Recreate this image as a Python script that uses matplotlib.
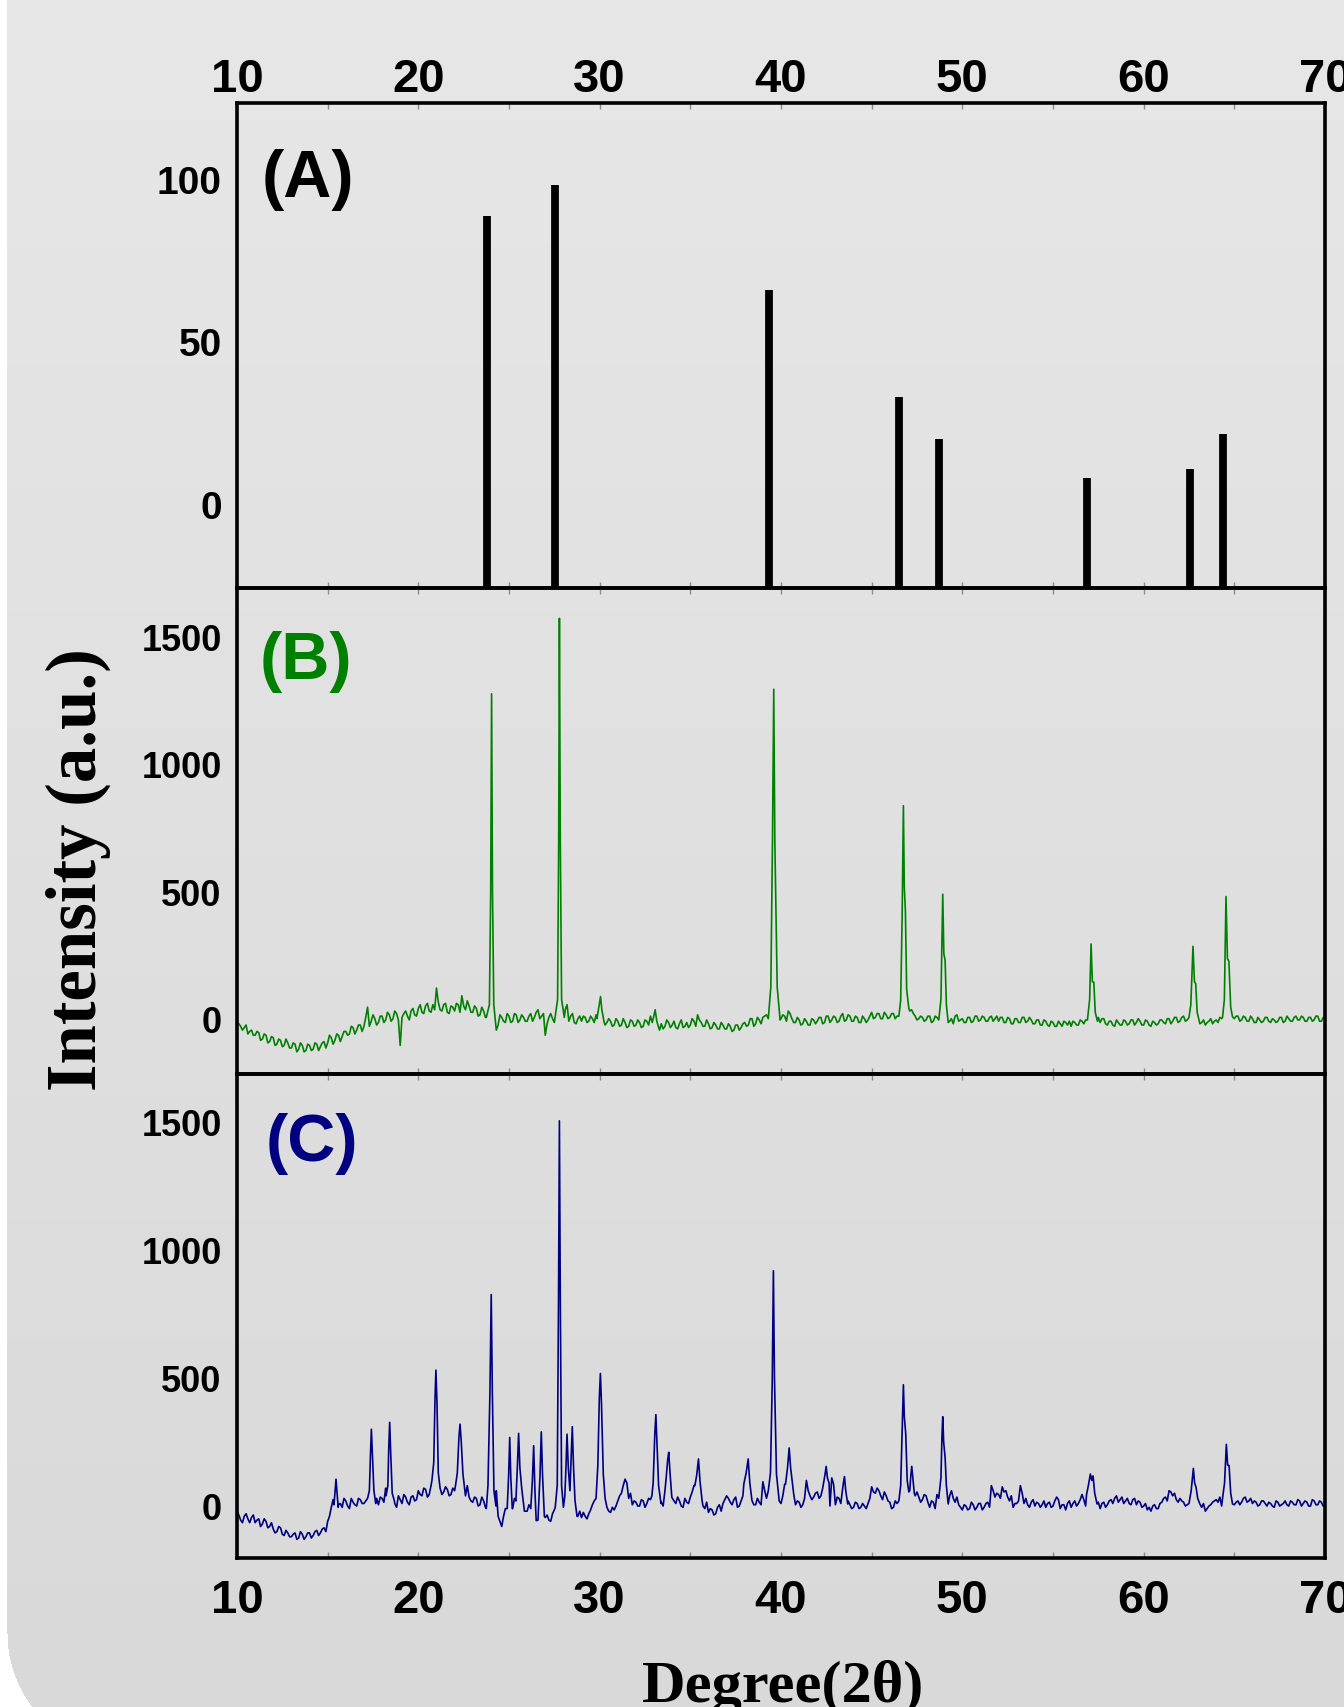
import numpy as np
import matplotlib
matplotlib.use("Agg")
import matplotlib.pyplot as plt

# ---------------- data ----------------
# (A) reference pattern sticks
ref_pos = [23.81, 27.52, 39.34, 46.49, 48.71, 56.87, 62.54, 64.38]
ref_int = [88.9, 98.6, 66.2, 33.3, 20.1, 8.1, 11.0, 21.9]

# baseline samples: even grid 10.0, 10.2, ... 70.0 and odd grid 10.1, 10.3, ... 69.9
grid_step = 0.2
even_start, odd_start = 10.0, 10.1

b_base = [
    -5, -25, -30, -55, -40,   -60, -50, -75, -60, -85,   -70, -95, -80, -100, -90,
    -110, -95, -115, -100, -120,   -100, -115, -95, -105, -85,   -90, -70, -80, -60, -65,
    -45, -55, -30, -40, -20,   -25, 50, -5, 5, -10,   15, 0, 20, 5, 25,
    -100, 25, 15, 35, 20,   45, 30, 55, 35, 60,   125, 40, 60, 30, 55,
    35, 60, 95, 40, 55,   30, 45, 20, 35, -45,   10, 10, -20, 10, -10,
    15, -5, 20, 0, 10,   -5, 25, 10, 40, 15,   -60, 10, 5, 10, 10,
    5, 60, 15, -10, 5,   -5, 10, -5, 5, 20,   20, 20, -10, -5, -20,
    -5, -20, -10, -25, -5,   -20, -10, -25, -5, 15,   20, -30, -15, -25, -10,
    -20, -30, -15, -30, -10,   -20, -5, 20, -10, -25,   -15, -30, -20, -35, -20,
    -35, -25, -40, -20, -30,   -10, -20, 5, -15, 0,   10, 20, 20, 20, 10,
    5, 15, 35, 5, -10,   0, -15, -5, -20, 0,   -5, 10, -10, 15, 0,
    10, -5, 25, 0, 15,   -5, 10, -10, 5, 0,   30, 10, 25, 5, 20,
    10, 25, 15, 15, 15,   40, 40, 15, 5, 10,   0, 15, -5, 10, 5,
    5, -25, 5, 15, -5,   5, -10, 10, -5, 15,   0, 10, -5, 15, 5,
    -5, 10, -10, 5, -15,   5, -10, 10, -5, 0,   -15, 0, -20, -5, -25,
    -10, -25, -15, -5, -20,   -25, -10, -20, -5, 0,   0, 0, 0, -10, 5,
    -20, -5, -25, -10, -20,   -5, -15, 0, -10, -5,   -20, -5, -25, -10, -15,
    0, -15, 5, -5, 10,   -5, 15, 0, 0, 0,   0, -10, -20, -5, -15,
    0, 10, 10, 10, 10,   5, 15, 0, 10, -5,   5, -10, 0, -5, 10,
    -10, 0, -5, 10, -5,   5, -5, 15, 0, 10,   -5, 10, 0, 15, -5,
    5]

b_base_odd = [
    -15, -40, -20, -45, -60,   -45, -80, -55, -90, -65,   -100, -75, -105, -75, -110,
    -90, -125, -90, -125, -95,   -120, -90, -120, -90, -110,   -60, -95, -55, -85, -45,
    -60, -25, -55, -20, -45,   10, -25, 20, -20, 15,   -10, 30, -5, 35, 0,
    10, 35, 0, 45, 15,   60, 25, 65, 30, 40,   70, 35, 65, 25, 50,
    65, 30, 55, 75, 30,   55, 15, 50, 10, 10,   0, -10, 20, -5, 25,
    -10, 25, -10, 20, -5,   15, -5, 30, 5, 25,   -15, 25, -10, 20, 10,
    40, -5, 25, -15, 15,   15, -10, 15, -10, 10,   60, -20, 5, -25, 5,
    -25, 5, -30, 0, -25,   0, -30, 0, -20, -5,   0, -15, -35, 0, -30,
    -5, -35, 0, -25, -30,   5, -25, 0, -25, 0,   -35, -10, -35, -10, -35,
    -15, -45, -20, -40, -15,   -25, 5, -25, 10, -15,   15, -5, 20, 10, 20,
    20, -5, 25, -10, 10,   -20, 5, -20, 5, -15,   10, -15, 15, -10, 15,
    -10, 15, -5, 20, -5,   15, -10, 15, -10, 15,   5, 25, 5, 30, 5,
    25, 5, 30, 15, 20,   35, 25, 0, 15, -5,   15, -10, 15, -5, 10,
    15, -5, -15, 20, 0,   -10, 10, -10, 15, -5,   15, -5, 10, -5, 15,
    10, -10, 10, -15, 5,   -10, 10, -10, 10, -15,   0, -20, 0, -20, -5,
    -25, -5, -25, -10, -5,   -5, -20, 0, -15, 5,   20, 20, 10, 5, -15,
    -5, -20, 0, -20, 0,   -20, 0, -20, 5, -20,   0, -20, -5, -20, 0,
    -10, 5, -15, 10, -10,   10, -5, 15, 10, 0,   -15, 0, -10, 5, -5,
    -10, 5, 10, 10, 15,   15, -5, 15, -5, 15,   -10, 10, -10, 10, -5,
    5, -10, 10, -10, 15,   -5, 10, 0, 15, -5,   10, -5, 15, -5, 10]

c_base = [
    -20, -55, -40, -50, -45,   -65, -50, -70, -60, -80,   -90, -100, -85, -115, -105,
    -120, -105, -125, -110, -120,   -105, -115, -95, -105, -85,   -60, -5, 20, 5, -5,
    20, -10, 15, 0, 25,   10, 45, 60, 60, 5,   30, 70, 70, 30, -5,
    25, 45, 15, 35, 20,   60, 40, 65, 45, 150,   70, 70, 55, 65, 45,
    60, 110, 110, 120, 35,   15, 30, 5, 20, -20,   0, 50, -40, -80, -10,
    0, -10, 20, 70, -30,   -20, -10, 0, -55, 0,   -45, -55, -30, 0, 0,
    0, 0, 60, 0, -40,   -45, -40, -30, 5, -10,   0, 0, -10, -25, -15,
    20, 50, 105, 30, 5,   15, 0, 20, 10, 25,   0, 0, 15, 0, 0,
    30, 10, 20, -5, 15,   35, 80, 80, 20, -10,   -25, -15, -30, 5, 10,
    40, 15, 25, -5, 20,   0, 0, 20, 5, 15,   95, 30, 0, 0, 0,
    10, 85, 0, 40, 5,   15, 5, 100, 40, 35,   55, 40, 0, 90, 110,
    5, 30, 0, 10, 5,   -5, 10, -5, 0, 10,   75, 50, 60, 25, 40,
    15, -5, 10, 0, 0,   55, 0, 40, 35, 25,   40, -5, 15, 45, 0,
    0, 10, 60, 15, 5,   -15, 0, -10, 5, -5,   10, -5, 15, 80, 35,
    45, 75, 60, 20, -5,   10, 80, 10, 5, 15,   0, 10, 5, -5, 15,
    0, 35, -10, 5, 10,   -5, 20, 10, 45, 0,   0, 0, 5, -10, 15,
    5, 25, 30, 15, 35,   20, 10, 25, 5, 15,   0, -15, -20, 5, -10,
    15, 35, 60, 40, 25,   30, 15, 5, 0, 0,   5, -5, -20, 0, 15,
    25, 35, 0, 0, 0,   5, 20, 15, 35, 20,   10, 15, 5, 20, 0,
    10, -5, 15, 5, 20,   0, 15, 5, 20, 10,   15, 0, 20, 5, 15,
    5]

c_base_odd = [
    -35, -65, -30, -65, -35,   -55, -80, -50, -85, -65,   -105, -80, -110, -95, -120,
    -110, -130, -100, -130, -105,   -125, -100, -115, -90, -100,   -40, 25, 15, 10, 30,
    0, 30, 5, 30, 10,   20, 40, 40, 30, 35,   15, 40, 40, 10, 40,
    10, 35, 5, 40, 25,   45, 70, 35, 80, 100,   60, 45, 75, 40, 70,
    40, 90, 90, 80, 20,   35, 0, 35, -5, 10,   0, 60, -60, -40, -30,
    0, 30, 30, 0, -20,   5, 0, 0, -30, -20,   -35, -60, -15, 0, 0,
    0, 0, 0, 0, -20,   -25, -50, -15, 20, 0,   0, 0, -20, -5, 0,
    40, 80, 90, 50, 20,   0, 25, -5, 30, 10,   0, 0, 0, 0, 0,
    10, 35, 0, 30, 10,   55, 0, 0, 0, 15,   -10, -35, -5, -20, 25,
    30, 5, 35, 0, 40,   0, 0, 5, 30, 5,   60, 0, 0, 0, 0,
    40, 0, 0, 20, 20,   -5, 30, 60, 25, 50,   30, 70, 0, 0, 85,
    35, 10, 0, 20, -10,   15, -10, 10, -10, 30,   55, 70, 40, 55, 20,
    -10, 20, -10, 0, 0,   0, 0, 55, 15, 45,   15, 20, -10, 30, 0,
    0, 40, 30, 35, -5,   5, -15, 15, -15, 10,   -15, 10, -5, 60, 50,
    30, 55, 35, 40, 10,   20, 50, 30, -5, 25,   15, -5, 20, 10, -5,
    20, 25, 5, -15, 20,   10, 0, 25, 25, 0,   0, 0, 15, 10, -5,
    20, 10, 40, 25, 10,   30, 5, 30, 20, -5,   10, -5, 0, -10, 10,
    30, 20, 55, 50, 15,   20, 0, 0, 0, 0,   -10, 10, -10, 5, 20,
    15, 0, 0, 0, 0,   15, 5, 30, 15, 30,   20, 0, 20, 10, 15,
    0, 20, 0, 10, 5,   20, 5, 25, 0, 20,   0, 25, 5, 20, 0]

# (B) diffraction peaks: (2theta, intensity) points across each peak
b_peaks = [
    [(23.75, 10), (23.92, 60), (23.99, 500), (24.04, 1279), (24.09, 500), (24.16, 60), (24.3, -40)],
    [(27.55, 15), (27.68, 80), (27.74, 700), (27.78, 1575), (27.83, 700), (27.9, 80), (28.05, 10)],
    [(29.85, 5), (29.98, 60), (30.05, 92), (30.12, 40), (30.25, -10)],
    [(32.9, -10), (33.0, 20), (33.06, 40), (33.15, -5), (33.3, -40)],
    [(39.3, 5), (39.44, 130), (39.53, 700), (39.6, 1297), (39.66, 700), (39.79, 130), (39.95, 0)],
    [(46.5, 15), (46.6, 77), (46.68, 400), (46.75, 840), (46.8, 520), (46.86, 428), (46.93, 120), (47.05, 45)],
    [(48.7, 0), (48.82, 80), (48.92, 493), (48.98, 260), (49.05, 233), (49.12, 60), (49.22, -10)],
    [(56.9, 0), (57.02, 80), (57.1, 298), (57.17, 150), (57.25, 148), (57.33, 30), (57.45, -5)],
    [(62.5, 10), (62.6, 60), (62.72, 289), (62.8, 150), (62.87, 142), (62.95, 30), (63.05, 0)],
    [(64.35, 10), (64.45, 80), (64.54, 484), (64.62, 240), (64.7, 230), (64.8, 50), (64.9, 12)],
]

# (C) diffraction peaks
c_peaks = [
    [(15.35, 5), (15.46, 105), (15.58, -5)],
    [(17.2, 30), (17.3, 60), (17.36, 200), (17.41, 300), (17.47, 200), (17.55, 60), (17.65, 10)],
    [(18.22, 40), (18.32, 80), (18.37, 230), (18.42, 327), (18.48, 200), (18.56, 50), (18.68, 20)],
    [(20.75, 100), (20.85, 170), (20.92, 420), (20.97, 531), (21.03, 400), (21.1, 130), (21.2, 70)],
    [(22.05, 80), (22.15, 130), (22.24, 270), (22.3, 320), (22.36, 260), (22.46, 125), (22.6, 40)],
    [(23.75, -10), (23.84, 80), (23.95, 450), (24.02, 826), (24.08, 450), (24.17, 60), (24.28, 0)],
    [(24.9, -10), (24.98, 120), (25.04, 268), (25.1, 110), (25.18, -10)],
    [(25.38, 20), (25.46, 150), (25.53, 284), (25.6, 150), (25.7, 70), (25.85, -20)],
    [(26.2, -10), (26.29, 100), (26.36, 236), (26.43, 60), (26.5, -57)],
    [(26.62, -20), (26.71, 120), (26.78, 290), (26.85, 120), (26.95, -40)],
    [(27.55, -5), (27.66, 80), (27.73, 800), (27.78, 1505), (27.83, 800), (27.9, 80), (28.0, -5)],
    [(28.08, 40), (28.14, 150), (28.2, 281), (28.27, 150), (28.36, 60), (28.43, 200),
     (28.49, 310), (28.56, 150), (28.64, 21), (28.75, -40)],
    [(29.8, 30), (29.9, 160), (29.98, 420), (30.04, 518), (30.1, 400), (30.2, 125), (30.3, 30), (30.4, -5)],
    [(32.88, 40), (32.95, 90), (33.04, 280), (33.1, 357), (33.16, 250), (33.25, 80), (33.38, 10)],
    [(33.6, 60), (33.67, 112), (33.75, 180), (33.81, 210), (33.88, 130), (33.98, 34), (34.1, 20)],
    [(35.25, 80), (35.35, 120), (35.45, 184), (35.53, 100), (35.65, 20)],
    [(37.95, 86), (38.08, 130), (38.19, 184), (38.28, 90), (38.4, 21)],
    [(39.3, 60), (39.42, 130), (39.52, 500), (39.58, 919), (39.64, 500), (39.75, 125), (39.9, 20)],
    [(40.25, 86), (40.36, 150), (40.45, 227), (40.53, 150), (40.7, 47)],
    [(42.3, 70), (42.42, 120), (42.49, 155), (42.56, 110), (42.65, 90)],
    [(43.35, 40), (43.44, 90), (43.5, 115), (43.57, 60), (43.68, 8)],
    [(46.5, 20), (46.6, 80), (46.69, 320), (46.75, 474), (46.8, 350), (46.88, 281), (46.96, 100), (47.05, 55)],
    [(47.1, 60), (47.16, 120), (47.21, 155), (47.27, 110), (47.35, 50)],
    [(48.72, 45), (48.82, 110), (48.88, 280), (48.92, 349), (48.97, 250), (49.05, 190), (49.12, 80), (49.22, 8)],
    [(56.85, 45), (56.95, 80), (57.06, 125), (57.14, 100), (57.21, 118), (57.3, 50), (57.43, 8)],
    [(62.5, 10), (62.62, 60), (62.74, 147), (62.81, 90), (62.89, 73), (62.98, 30), (63.1, 8)],
    [(64.35, 30), (64.46, 90), (64.56, 241), (64.63, 160), (64.71, 158), (64.8, 50), (64.9, 8)],
]

x_ticks = [10, 20, 30, 40, 50, 60, 70]
x_minor = [15, 25, 35, 45, 55, 65]
a_yticks = [0, 50, 100]
bc_yticks = [0, 500, 1000, 1500]
panel_labels = ["(A)", "(B)", "(C)"]
xlabel_text = "Degree(2\u03b8)"
ylabel_text = "Intensity (a.u.)"


def build_series(grids, peaks):
    bx = np.concatenate([start + grid_step * np.arange(len(v)) for start, v in grids])
    by = np.concatenate([np.asarray(v, float) for _, v in grids])
    keep = np.ones(len(bx), bool)
    px, py = [], []
    for grp in peaks:
        gx = [p[0] for p in grp]
        keep &= ~((bx >= min(gx) - 1e-9) & (bx <= max(gx) + 1e-9))
        px += gx
        py += [p[1] for p in grp]
    x = np.concatenate([bx[keep], px])
    y = np.concatenate([by[keep], py])
    order = np.argsort(x, kind="stable")
    return x[order], y[order]


bx_, by_ = build_series([(even_start, b_base), (odd_start, b_base_odd)], b_peaks)
cx_, cy_ = build_series([(even_start, c_base), (odd_start, c_base_odd)], c_peaks)

# ---------------- figure ----------------
plt.rcParams['font.family'] = ['Liberation Sans', 'DejaVu Sans']
plt.rcParams['font.weight'] = 'bold'

W, H = 1344, 1707
fig = plt.figure(figsize=(W / 100, H / 100), dpi=100)

# background: soft vertical gradient with white left margin and rounded corner
yy = np.arange(H)[:, None]
xx = np.arange(W)[None, :]
g = (231 - 14 * yy / (H - 1)) * np.ones((1, W))
white = (xx < 7) | ((yy > 1633) & (xx < 129 - np.sqrt(np.clip(122 ** 2 - (yy - 1633) ** 2, 0, None))))
g = np.where(white, 255, g)
img = np.dstack([g, g, g]).astype(np.uint8)
fig.figimage(img, xo=0, yo=0, origin='upper', zorder=-10)

left, width = 237 / W, 1088 / W
rects = [(103, 588), (588, 1074), (1074, 1558)]
axes = []
for top, bot in rects:
    ax = fig.add_axes([left, 1 - bot / H, width, (bot - top) / H])
    ax.set_facecolor('none')
    for s in ax.spines.values():
        s.set_linewidth(2.6)
        s.set_color('black')
    ax.set_xlim(10, 70)
    ax.set_xticks(x_ticks)
    ax.set_xticks(x_minor, minor=True)
    ax.tick_params(axis='x', which='both', direction='in', length=4, width=1,
                   color='#8a8a8a', top=True, bottom=True,
                   labeltop=False, labelbottom=False, labelsize=34)
    ax.tick_params(axis='y', which='both', length=0, pad=11)
    axes.append(ax)

axA, axB, axC = axes

# (A) sticks
a_ylim = (-25.7, 123.8)
axA.set_ylim(*a_ylim)
axA.vlines(ref_pos, a_ylim[0], ref_int, colors='black', linewidth=5.6)
axA.set_yticks(a_yticks)
axA.tick_params(axis='y', labelsize=28)
axA.tick_params(axis='x', labeltop=True, pad=1)

# (B)
axB.plot(bx_, by_, color='#008000', linewidth=1.2)
axB.set_ylim(-212, 1694)
axB.set_yticks(bc_yticks)
axB.tick_params(axis='y', labelsize=26)

# (C)
axC.plot(cx_, cy_, color='#000080', linewidth=1.2)
axC.set_ylim(-203, 1688)
axC.set_yticks(bc_yticks)
axC.tick_params(axis='y', labelsize=26)
axC.tick_params(axis='x', labelbottom=True, pad=15)

label_colors = ['black', '#008000', '#000080']
label_pos = [(0.023, 0.905), (0.021, 0.912), (0.026, 0.92)]
for ax, t, c, (px, py) in zip(axes, panel_labels, label_colors, label_pos):
    ax.text(px, py, t, transform=ax.transAxes, ha='left', va='top',
            fontsize=48, fontweight='bold', color=c)

fig.text(78 / W, 1 - 870 / H, ylabel_text, rotation=90, ha='center', va='center',
         fontsize=51, fontweight='bold', family=['Liberation Serif', 'DejaVu Serif'])
fig.text(783 / W, (H - 1702) / H, xlabel_text, ha='center', va='baseline',
         fontsize=43.5, fontweight='bold', family=['Liberation Serif', 'DejaVu Serif'])

fig.savefig('out.png', dpi=100)
